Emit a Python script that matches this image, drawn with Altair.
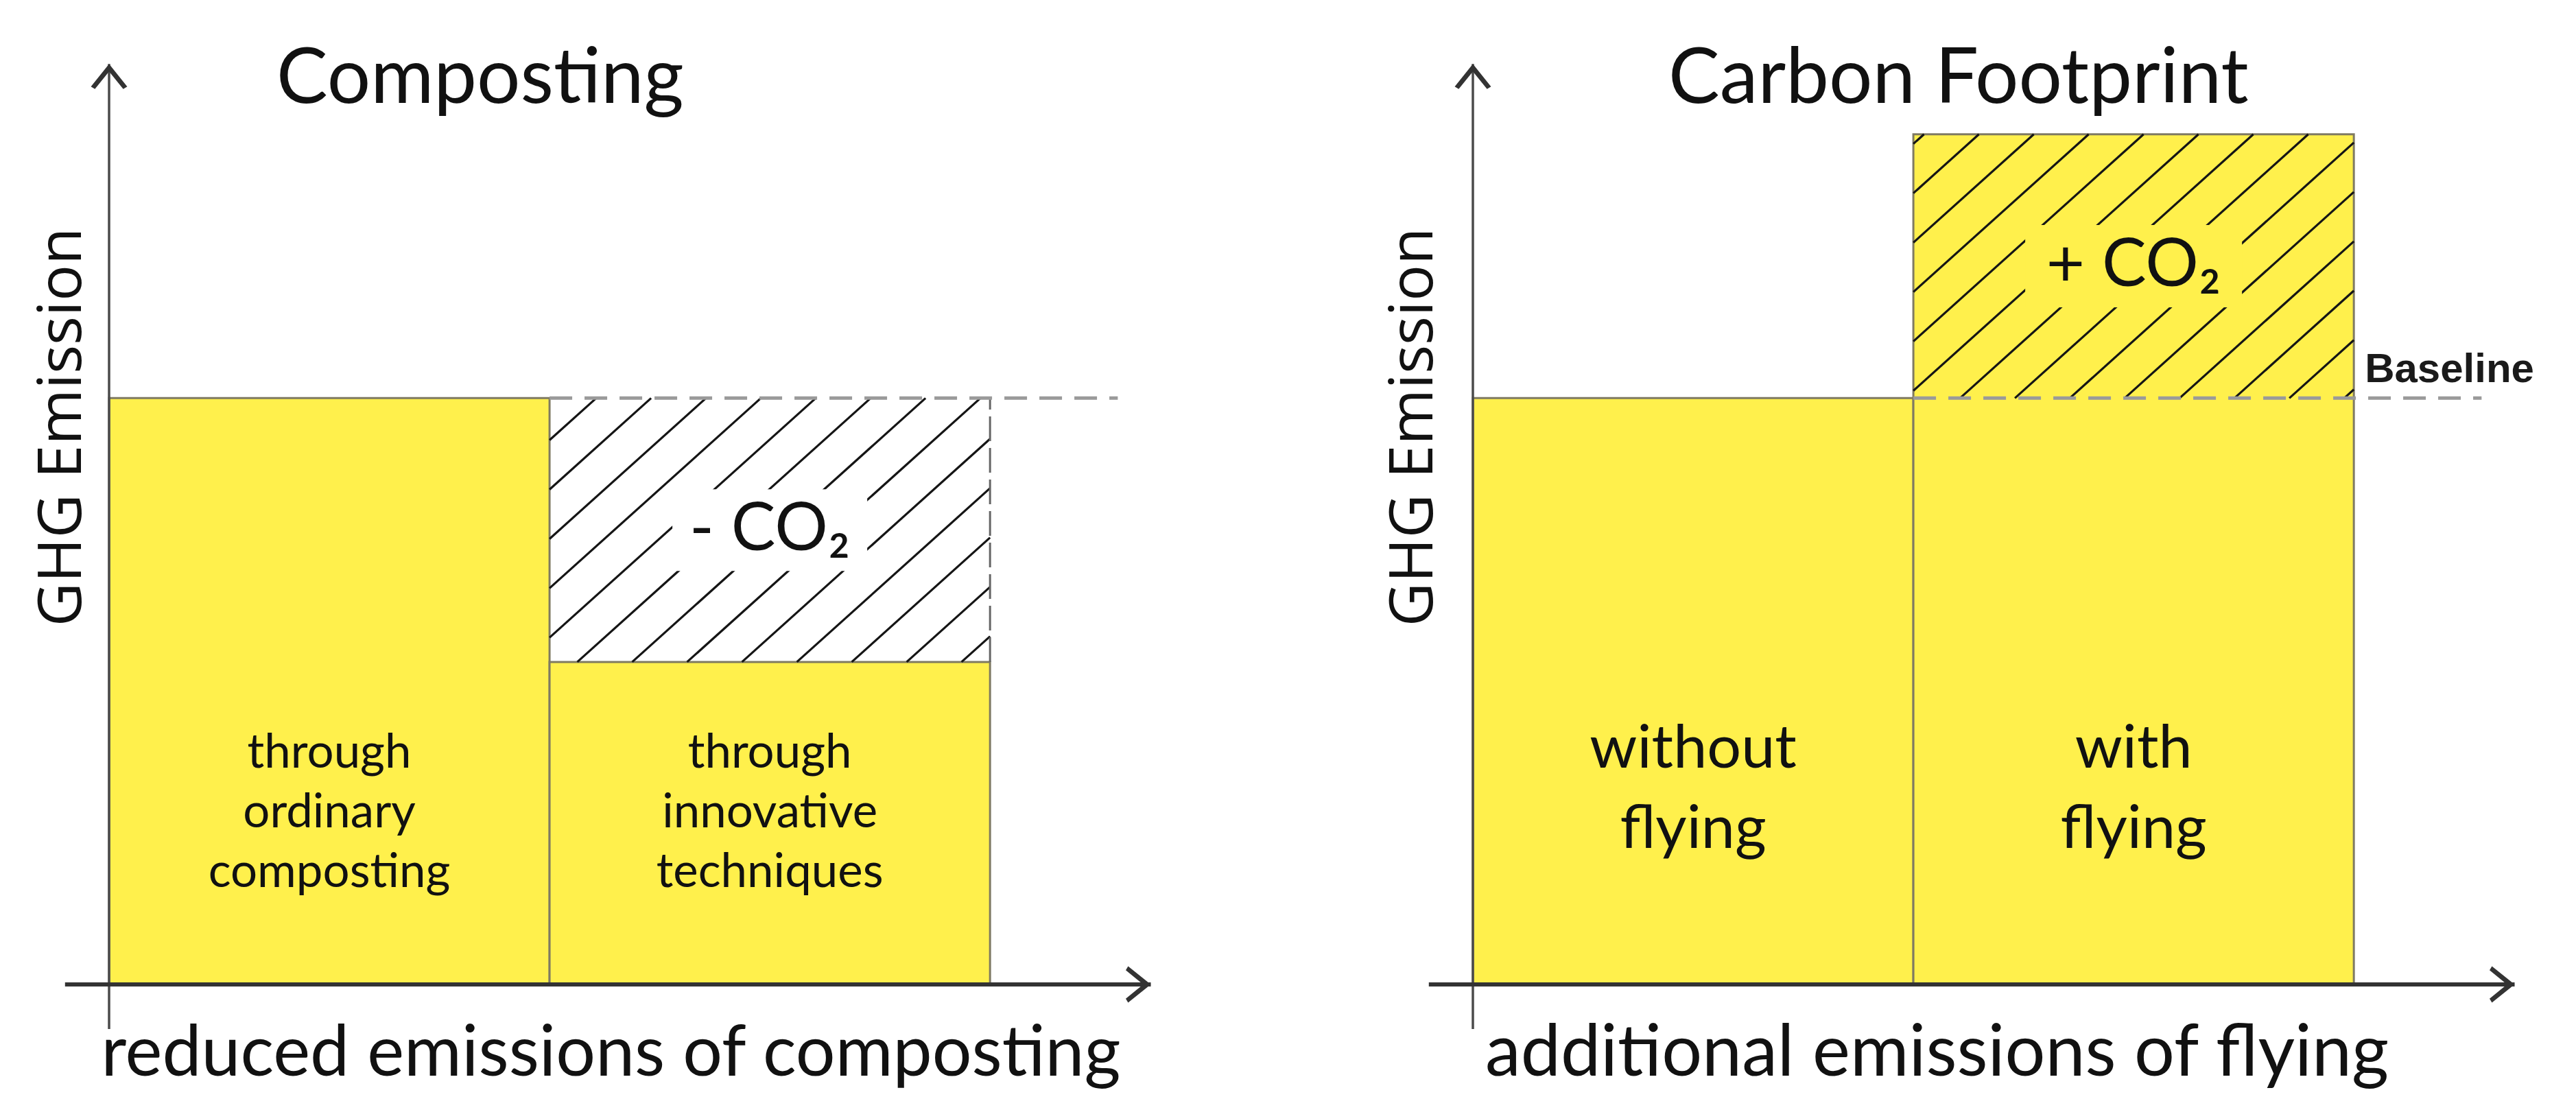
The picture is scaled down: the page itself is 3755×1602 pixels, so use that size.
import altair as alt
import pandas as pd

# ---------------- data ----------------
PANEL_TITLES = ["Composting", "Carbon Footprint"]
X_TITLES = ["reduced emissions of composting", "additional emissions of flying"]
Y_TITLE = "GHG Emission"
LEFT_LABELS = [["through", "ordinary", "composting"], ["through", "innovative", "techniques"]]
LEFT_VALUES = [100, 55]
RIGHT_LABELS = [["without", "flying"], ["with", "flying"]]
RIGHT_VALUES = [100, 145]
BASELINE = 100
DELTA_LABELS = ["- CO₂", "+ CO₂"]
BASELINE_LABEL = "Baseline"

# ---------------- layout / style ----------------
X_DOMAIN = [0, 2.4]
Y_DOMAIN = [0, 150]
PX_X = 642.0
PX_Y = 8.55
W = round((X_DOMAIN[1] - X_DOMAIN[0]) * PX_X)
H = round((Y_DOMAIN[1] - Y_DOMAIN[0]) * PX_Y)
AXIS_X_START, AXIS_X_END = -0.1, 2.365
AXIS_Y_START, AXIS_Y_END = -7.6, 157
DASH_EXT = 0.29
LABEL_Y = 37
HATCH_SPACING = 80
HATCH_SLOPE = 0.9
YELLOW = "#FFF04C"
OUTLINE = "#7f7a62"
INK = "#111111"

xs = alt.Scale(domain=X_DOMAIN, nice=False, zero=False)
ys = alt.Scale(domain=Y_DOMAIN, nice=False, zero=False)
ARROW = "M0,0 L1,1.25 L0.78,1.38 L0,0.42 L-0.78,1.38 L-1,1.25 Z"


def hatch_segments(x0, x1, y0, y1):
    X0, X1, Y0, Y1 = x0 * PX_X, x1 * PX_X, y0 * PX_Y, y1 * PX_Y
    m = HATCH_SLOPE
    step = HATCH_SPACING * m
    rows = []
    k = int((Y0 - m * X1) // step) - 1
    while k * step <= Y1 - m * X0:
        c = k * step
        xa = max(X0, (Y0 - c) / m)
        xb = min(X1, (Y1 - c) / m)
        if xb - xa > 1:
            rows.append({"x": xa / PX_X, "y": (m * xa + c) / PX_Y,
                         "x2": xb / PX_X, "y2": (m * xb + c) / PX_Y})
        k += 1
    return pd.DataFrame(rows)


def panel(i, labels, values, label_font, label_lh, box_w, box_h, title_dx,
          xtitle_x, xtitle_size, ytitle_x):
    n = len(values)
    bars = pd.DataFrame({
        "x": list(range(n)), "x2": [j + 1 for j in range(n)],
        "y": [0] * n, "y2": values,
        "xc": [j + 0.5 for j in range(n)], "ly": [LABEL_Y] * n,
        "label": labels,
    })
    y_lo, y_hi = min(values[1], BASELINE), max(values[1], BASELINE)
    hbg = "white" if values[1] < BASELINE else YELLOW

    xaxis = alt.Axis(title=X_TITLES[i], domain=False, ticks=False, labels=False, grid=False,
                     titleFont="Lato", titleFontSize=xtitle_size, titleFontWeight="normal",
                     titleColor=INK, titleAlign="center", titleBaseline="alphabetic",
                     titleX=xtitle_x, titleY=132)
    yaxis = alt.Axis(title=Y_TITLE, domain=False, ticks=False, labels=False, grid=False,
                     titleFont="Open Sans", titleFontSize=88, titleFontWeight="normal", titleColor=INK,
                     titleAngle=270, titleAlign="center", titleBaseline="alphabetic",
                     titleX=ytitle_x, titleY=469)

    def X(f):
        return alt.X(f, scale=xs, axis=xaxis)

    def Y(f):
        return alt.Y(f, scale=ys, axis=yaxis)

    layers = []
    layers.append(alt.Chart(bars).mark_rect(fill=YELLOW, stroke=OUTLINE, strokeWidth=3).encode(
        x=X("x:Q"), x2="x2", y=Y("y:Q"), y2="y2"))

    hat = hatch_segments(1, 2, y_lo, y_hi)
    layers.append(alt.Chart(hat).mark_rule(color="#151515", strokeWidth=3.2).encode(
        x=X("x:Q"), x2="x2", y=Y("y:Q"), y2="y2"))

    mid = pd.DataFrame({"x": [1.5], "y": [(y_lo + y_hi) / 2], "t": [DELTA_LABELS[i]]})
    ratio = box_h / box_w
    box_shape = f"M-1,-{ratio:.3f} H1 V{ratio:.3f} H-1 Z"
    layers.append(alt.Chart(mid).mark_point(shape=box_shape, size=box_w ** 2, filled=True,
                                            color=hbg, opacity=1, strokeWidth=0).encode(
        x=X("x:Q"), y=Y("y:Q")))
    layers.append(alt.Chart(mid).mark_text(font="Lato", fontSize=97, color=INK,
                                           align="center", baseline="middle").encode(
        x=X("x:Q"), y=Y("y:Q"), text="t:N"))

    if values[1] < BASELINE:
        vd = pd.DataFrame({"x": [2], "y": [y_lo], "y2": [y_hi]})
        layers.append(alt.Chart(vd).mark_rule(color="#666666", strokeWidth=3, strokeDash=[36, 10]).encode(
            x=X("x:Q"), y=Y("y:Q"), y2="y2"))

    base = pd.DataFrame({"x": [1], "x2": [n + DASH_EXT], "y": [BASELINE]})
    layers.append(alt.Chart(base).mark_rule(color="#9a9a9a", strokeWidth=5, strokeDash=[33, 18]).encode(
        x=X("x:Q"), x2="x2", y=Y("y:Q")))

    ya = pd.DataFrame({"x": [0], "y": [AXIS_Y_START], "y2": [AXIS_Y_END]})
    layers.append(alt.Chart(ya).mark_rule(color="#4a4a4a", strokeWidth=3.5).encode(
        x=X("x:Q"), y=Y("y:Q"), y2="y2"))
    xa = pd.DataFrame({"x": [AXIS_X_START], "x2": [AXIS_X_END], "y": [0]})
    layers.append(alt.Chart(xa).mark_rule(color="#333333", strokeWidth=6).encode(
        x=X("x:Q"), x2="x2", y=Y("y:Q")))

    heads = pd.DataFrame({"x": [0, AXIS_X_END], "y": [AXIS_Y_END, 0], "a": [0, 90]})
    layers.append(alt.Chart(heads).mark_point(shape=ARROW, size=2800, filled=True, color="#333333",
                                              opacity=1, strokeWidth=0).encode(
        x=X("x:Q"), y=Y("y:Q"), angle=alt.Angle("a:Q", scale=None)))

    layers.append(alt.Chart(bars).mark_text(font="Lato", fontSize=label_font, lineHeight=label_lh,
                                            color=INK, align="center", baseline="alphabetic").encode(
        x=X("xc:Q"), y=Y("ly:Q"), text="label"))

    if values[1] > BASELINE:
        bl = pd.DataFrame({"x": [n], "y": [BASELINE], "t": [BASELINE_LABEL]})
        layers.append(alt.Chart(bl).mark_text(font="Liberation Sans", fontWeight="bold", fontSize=60,
                                              color="#1a1a1a", align="left", baseline="alphabetic",
                                              dx=16, dy=-23).encode(
            x=X("x:Q"), y=Y("y:Q"), text="t:N"))

    return alt.layer(*layers).properties(
        width=W, height=H,
        title=alt.Title(PANEL_TITLES[i], anchor="start", frame="group", orient="top", offset=-171,
                        dx=title_dx, baseline="alphabetic", font="Lato", fontSize=112,
                        fontWeight="normal", color=INK))


left = panel(0, LEFT_LABELS, LEFT_VALUES, 69, 87, 284, 119, 244, 731, 102, -42)
right = panel(1, RIGHT_LABELS, RIGHT_VALUES, 88, 117, 316, 120, 285, 676, 104, -60)

chart = alt.hconcat(left, right, spacing=316).properties(
    padding={"left": 38, "top": 52, "right": 0, "bottom": 0},
    background="white",
).configure_view(strokeWidth=0)

chart.save("out.html", embed_options={"renderer": "svg", "actions": False})
